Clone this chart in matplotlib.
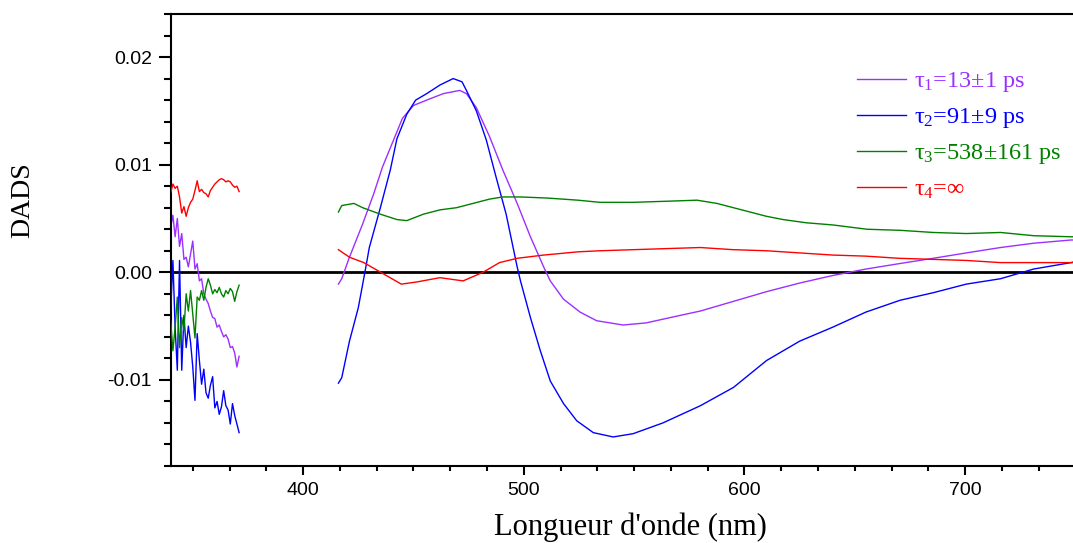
import numpy as np
import matplotlib.pyplot as plt
from matplotlib.ticker import MultipleLocator, AutoMinorLocator, FormatStrFormatter
from matplotlib.lines import Line2D

plt.rcParams['font.family'] = ['Liberation Sans', 'DejaVu Sans']
plt.rcParams['mathtext.fontset'] = 'custom'
plt.rcParams['mathtext.rm'] = 'Liberation Serif'
plt.rcParams['mathtext.it'] = 'Liberation Serif:italic'
plt.rcParams['mathtext.bf'] = 'Liberation Serif:bold'

# short-wavelength part (noisy), shared wavelength grid
left_nm = np.arange(340, 372)
left_tau1 = [0.0042, 0.0053, 0.0033, 0.0050, 0.0024, 0.0036, 0.0012, 0.0014, 0.0005, 0.0017,
             0.0029, 0.0003, 0.0008, -0.0008, -0.0006, -0.0020, -0.0025, -0.0029, -0.0036, -0.0042,
             -0.0043, -0.0051, -0.0049, -0.0055, -0.0060, -0.0058, -0.0062, -0.0070, -0.0069, -0.0075,
             -0.0088, -0.0078]
left_tau2 = [-0.0036, 0.0011, -0.0051, -0.0091, 0.0011, -0.0091, -0.0040, -0.0070, -0.0050, -0.0065,
             -0.0088, -0.0119, -0.0057, -0.0082, -0.0104, -0.0090, -0.0112, -0.0117, -0.0105, -0.0097,
             -0.0126, -0.0120, -0.0132, -0.0125, -0.0110, -0.0124, -0.0128, -0.0141, -0.0122, -0.0133,
             -0.0141, -0.0149]
left_tau3 = [-0.0045, -0.0073, -0.0051, -0.0023, -0.0070, -0.0042, -0.0054, -0.0020, -0.0036, -0.0017,
             -0.0039, -0.0061, -0.0023, -0.0026, -0.0017, -0.0026, -0.0014, -0.0006, -0.0012, -0.0020,
             -0.0016, -0.0019, -0.0014, -0.0020, -0.0023, -0.0017, -0.0020, -0.0015, -0.0018, -0.0027,
             -0.0018, -0.0012]
left_tau4 = [0.0074, 0.0082, 0.0078, 0.0080, 0.0070, 0.0055, 0.0061, 0.0052, 0.0060, 0.0065,
             0.0068, 0.0076, 0.0085, 0.0075, 0.0077, 0.0074, 0.0073, 0.0070, 0.0076, 0.0079,
             0.0082, 0.0084, 0.0086, 0.0087, 0.0086, 0.0084, 0.0085, 0.0084, 0.0081, 0.0079,
             0.0080, 0.0075]

# visible part
tau1_nm = [416, 417.5, 421, 427, 432, 436, 441, 445, 450, 456, 463.5, 471, 474, 478.5, 484.5,
           490.5, 497, 503, 509, 512, 518, 525.5, 533, 545, 555.5, 571, 580, 595, 610, 625,
           640, 655, 670, 685.5, 700.5, 716, 731, 748, 750]
tau1_val = [-0.0011, -0.0006, 0.0014, 0.0045, 0.0073, 0.0098, 0.0123, 0.0143, 0.0155, 0.0160,
            0.0166, 0.0169, 0.0166, 0.0153, 0.0126, 0.0095, 0.0064, 0.0033, 0.0005, -0.0008,
            -0.0025, -0.0037, -0.0045, -0.0049, -0.0047, -0.0040, -0.0036, -0.0027, -0.0018,
            -0.0010, -0.0003, 0.0003, 0.0008, 0.0013, 0.0018, 0.0023, 0.0027, 0.0030, 0.0030]

tau2_nm = [416, 417.5, 421, 425, 428, 430, 435, 439.5, 442.5, 447, 451, 456, 462, 468, 472,
           474, 478.5, 483, 487.5, 492, 497, 498.5, 503, 507.5, 512, 518, 524, 531.5, 540.5,
           549.5, 563, 580, 595, 610, 625, 640, 655, 670.5, 685.5, 700.5, 716, 731,
           748, 750]
tau2_val = [-0.0103, -0.0098, -0.0064, -0.0033, 0.0000, 0.0023, 0.0060, 0.0095, 0.0124, 0.0147,
            0.0160, 0.0166, 0.0174, 0.0180, 0.0177, 0.0169, 0.0150, 0.0123, 0.0088, 0.0054,
            0.0005, -0.0008, -0.0042, -0.0073, -0.0101, -0.0122, -0.0138, -0.0149, -0.0153,
            -0.0150, -0.0140, -0.0124, -0.0107, -0.0082, -0.0064, -0.0051, -0.0037,
            -0.0026, -0.0019, -0.0011, -0.0006, 0.0003, 0.0009, 0.0010]

tau3_nm = [416, 417.5, 423, 427, 435, 442.5, 447, 454.5, 462, 469.5, 477, 484.5, 490.5, 498.5,
           510.5, 524.5, 534.5, 549.5, 564.5, 578.5, 587.5, 595, 602.5, 610, 617.5, 628, 640,
           655.5, 670.5, 685.5, 700.5, 716, 731, 748, 750]
tau3_val = [0.0056, 0.0062, 0.0064, 0.0060, 0.0054, 0.0049, 0.0048, 0.0054, 0.0058, 0.0060,
            0.0064, 0.0068, 0.0070, 0.0070, 0.0069, 0.0067, 0.0065, 0.0065, 0.0066, 0.0067,
            0.0064, 0.0060, 0.0056, 0.0052, 0.0049, 0.0046, 0.0044, 0.0040, 0.0039, 0.0037,
            0.0036, 0.0037, 0.0034, 0.0033, 0.0033]

tau4_nm = [416, 421, 427.5, 436, 444.5, 451.5, 462, 472.5, 481.5, 489, 497, 509, 524.5, 534.5,
           549.5, 564.5, 580, 595, 610, 625, 640, 655, 670, 685.5, 700.5, 716, 731,
           748, 750]
tau4_val = [0.0021, 0.0014, 0.0009, -0.0001, -0.0011, -0.0009, -0.0005, -0.0008, 0.0000, 0.0009,
            0.0013, 0.0016, 0.0019, 0.0020, 0.0021, 0.0022, 0.0023, 0.0021, 0.0020, 0.0018,
            0.0016, 0.0015, 0.0013, 0.0012, 0.0011, 0.0009, 0.0009, 0.0009, 0.0009]

labels = ['τ$_1$=13±1 ps', 'τ$_2$=91±9 ps', 'τ$_3$=538±161 ps', 'τ$_4$=∞']
colors = ['#9B30FF', '#0000FF', '#008000', '#FF0000']

W, H = 1073, 543
fig = plt.figure(figsize=(W / 100, H / 100), dpi=100)
ax = fig.add_axes([170.7 / W, 1 - 466 / H, (1075.5 - 170.7) / W, (466 - 14) / H])

ax.axhline(0, color='black', lw=2, zorder=1)

lefts = [left_tau1, left_tau2, left_tau3, left_tau4]
rights = [(tau1_nm, tau1_val), (tau2_nm, tau2_val), (tau3_nm, tau3_val), (tau4_nm, tau4_val)]
for i in range(4):
    ax.plot(left_nm, lefts[i], color=colors[i], lw=1.0, zorder=2 + i)
    ax.plot(rights[i][0], rights[i][1], color=colors[i], lw=1.0, zorder=2 + i)

ax.set_xlim(340, 750)
ax.set_ylim(-0.018, 0.024)

ax.xaxis.set_major_locator(MultipleLocator(100))
ax.xaxis.set_minor_locator(AutoMinorLocator(6))
ax.yaxis.set_major_locator(MultipleLocator(0.01))
ax.yaxis.set_minor_locator(AutoMinorLocator(5))
ax.yaxis.set_major_formatter(FormatStrFormatter('%.2f'))

ax.spines['right'].set_visible(False)
for s in ['left', 'bottom', 'top']:
    ax.spines[s].set_linewidth(1.5)

ax.tick_params(axis='x', which='major', direction='out', length=6.5, width=1.5, pad=5, labelsize=14)
ax.tick_params(axis='x', which='minor', direction='out', length=3.5, width=1.5)
ax.tick_params(axis='y', which='major', direction='out', length=8.5, width=1.5, pad=5, labelsize=14)
ax.tick_params(axis='y', which='minor', direction='out', length=4.8, width=1.5)
ax.tick_params(top=False, right=False)

fig.text(630 / W, 1 - 535 / H, "Longueur d'onde (nm)", family='Liberation Serif', fontsize=22,
         ha='center', va='baseline')
fig.text(23 / W, 1 - 200 / H, 'DADS', family='Liberation Serif', fontsize=20,
         rotation=90, ha='center', va='center')

handles = [Line2D([], [], color=c, lw=1.0) for c in colors]
leg = ax.legend(handles, labels, loc='upper left', bbox_to_anchor=(857 / W, 1 - 70 / H),
                bbox_transform=fig.transFigure, frameon=False, labelcolor='linecolor',
                prop={'family': 'Liberation Serif', 'size': 17.5},
                handlelength=2.0, handletextpad=0.35, labelspacing=0.5,
                borderpad=0, borderaxespad=0)

fig.savefig('out.png', dpi=100)
